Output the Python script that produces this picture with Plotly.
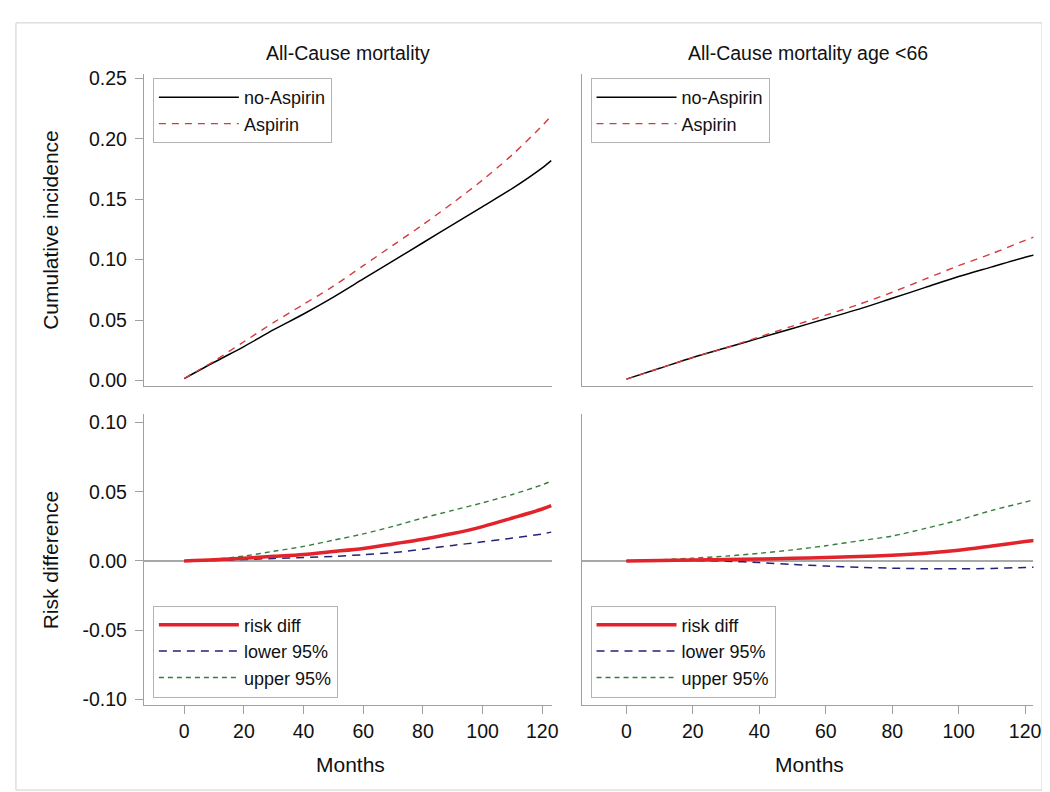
import plotly.graph_objects as go

# ---------------- data ----------------
months = [0, 10, 20, 30, 40, 50, 60, 70, 80, 90, 100, 110, 120, 123]

# Top-left: All-Cause mortality, cumulative incidence
all_no_aspirin = [0.0015, 0.015, 0.028, 0.042, 0.055, 0.069, 0.084, 0.099, 0.114, 0.129, 0.144, 0.159, 0.176, 0.182]
all_aspirin    = [0.0015, 0.016, 0.032, 0.048, 0.063, 0.078, 0.095, 0.112, 0.129, 0.147, 0.166, 0.187, 0.211, 0.219]

# Top-right: All-Cause mortality age <66, cumulative incidence
young_no_aspirin = [0.001, 0.010, 0.019, 0.027, 0.035, 0.043, 0.051, 0.059, 0.068, 0.077, 0.086, 0.094, 0.102, 0.104]
young_aspirin    = [0.001, 0.010, 0.019, 0.027, 0.036, 0.045, 0.054, 0.063, 0.073, 0.084, 0.095, 0.105, 0.116, 0.119]

# Bottom-left: risk difference, all ages
all_rd    = [0.0, 0.0008, 0.002, 0.0033, 0.0047, 0.0068, 0.009, 0.0123, 0.0157, 0.0198, 0.0248, 0.031, 0.0375, 0.040]
all_lower = [0.0, 0.0004, 0.001, 0.0018, 0.0025, 0.0033, 0.0045, 0.006, 0.0085, 0.0112, 0.0138, 0.0165, 0.0195, 0.0208]
all_upper = [0.0, 0.0012, 0.0035, 0.007, 0.0105, 0.015, 0.0195, 0.025, 0.031, 0.0365, 0.042, 0.048, 0.055, 0.0576]

# Bottom-right: risk difference, age <66
young_rd    = [0.0, 0.0003, 0.0007, 0.001, 0.0014, 0.0019, 0.0025, 0.0032, 0.0041, 0.0055, 0.0077, 0.0108, 0.0140, 0.0149]
young_lower = [0.0, 0.0002, 0.0003, -0.0002, -0.0012, -0.0025, -0.0037, -0.0046, -0.0052, -0.0056, -0.0057, -0.0054, -0.0047, -0.0045]
young_upper = [0.0, 0.0008, 0.002, 0.0035, 0.0055, 0.008, 0.011, 0.0145, 0.018, 0.0235, 0.0295, 0.0365, 0.0425, 0.0445]

panel_titles = ["All-Cause mortality", "All-Cause mortality age <66"]
x_title = "Months"
y_titles = ["Cumulative incidence", "Risk difference"]

x_ticks = [0, 20, 40, 60, 80, 100, 120]
x_tick_labels = ["0", "20", "40", "60", "80", "100", "120"]
y_top_ticks = [0.00, 0.05, 0.10, 0.15, 0.20, 0.25]
y_top_labels = ["0.00", "0.05", "0.10", "0.15", "0.20", "0.25"]
y_bot_ticks = [-0.10, -0.05, 0.00, 0.05, 0.10]
y_bot_labels = ["-0.10", "-0.05", "0.00", "0.05", "0.10"]

# ---------------- styling ----------------
W, H = 1050, 792
FONT = "Liberation Sans, Arial, Helvetica, sans-serif"
AXIS_GRAY = "#a0a0a0"
TXT = "#111111"

def px_x(p):
    return p / W

def px_y(p):
    return 1 - p / H

left_dom = [px_x(137), px_x(548.3)]
right_dom = [px_x(578.3), px_x(1033.3)]
top_dom = [px_y(377), px_y(60)]
bot_dom = [px_y(701), px_y(405)]

left_range = [-13.5, 123.3]
right_range = [-13.4, 122.5]
top_range = [-0.0049, 0.2537]
bot_range = [-0.1043, 0.1062]

style_noasp = dict(color="#000000", width=1.5)
style_asp = dict(color="#d63a3c", width=1.4, dash="7px,6px")
style_rd = dict(color="#e3232b", width=3.5)
style_lo = dict(color="#22227a", width=1.5, dash="8px,6px")
style_up = dict(color="#357f3c", width=1.4, dash="5px,4px")

fig = go.Figure()

def add(x, y, name, line, xa, ya, legend):
    fig.add_trace(go.Scatter(
        x=x, y=y, name=name, mode="lines",
        line=dict(shape="spline", smoothing=0.8, **line),
        xaxis=xa, yaxis=ya, legend=legend, showlegend=True,
    ))

add(months, all_no_aspirin, "no-Aspirin", style_noasp, "x", "y", "legend")
add(months, all_aspirin, "Aspirin", style_asp, "x", "y", "legend")
add(months, young_no_aspirin, "no-Aspirin", style_noasp, "x2", "y2", "legend2")
add(months, young_aspirin, "Aspirin", style_asp, "x2", "y2", "legend2")

add(months, all_upper, "upper 95%", style_up, "x3", "y3", "legend3")
add(months, all_lower, "lower 95%", style_lo, "x3", "y3", "legend3")
add(months, all_rd, "risk diff", style_rd, "x3", "y3", "legend3")
add(months, young_upper, "upper 95%", style_up, "x4", "y4", "legend4")
add(months, young_lower, "lower 95%", style_lo, "x4", "y4", "legend4")
add(months, young_rd, "risk diff", style_rd, "x4", "y4", "legend4")

base_axis = dict(
    showgrid=False, zeroline=False, showline=True, linecolor=AXIS_GRAY, linewidth=1.2,
    ticks="outside", tickcolor=AXIS_GRAY, ticklen=8, tickwidth=1.2,
    tickfont=dict(family=FONT, size=19.5, color=TXT), mirror=False,
)

def xax(domain, rng, anchor, labels):
    d = dict(base_axis, domain=domain, range=rng, anchor=anchor,
             tickmode="array", tickvals=x_ticks, ticktext=x_tick_labels)
    if not labels:
        d.update(showticklabels=False, ticks="")
    else:
        d.update(ticklabelstandoff=0)
    return d

def yax(domain, rng, anchor, ticks, labels, show, zero=False):
    d = dict(base_axis, domain=domain, range=rng, anchor=anchor,
             tickmode="array", tickvals=ticks, ticktext=labels)
    if not show:
        d.update(showticklabels=False, ticks="")
    else:
        d.update(ticklabelstandoff=4)
    if zero:
        d.update(zeroline=True, zerolinecolor="#a8a8a8", zerolinewidth=1.6)
    return d

leg_common = dict(
    bgcolor="white", bordercolor="#b4b4b4", borderwidth=1,
    font=dict(family=FONT, size=18, color=TXT),
    xanchor="left", itemwidth=80, tracegroupgap=0,
    traceorder="reversed",
)

fig.update_layout(
    width=W, height=H,
    paper_bgcolor="white", plot_bgcolor="white",
    margin=dict(l=0, r=0, t=0, b=0),
    font=dict(family=FONT, color=TXT),
    xaxis=xax(left_dom, left_range, "y", False),
    yaxis=yax(top_dom, top_range, "x", y_top_ticks, y_top_labels, True),
    xaxis2=xax(right_dom, right_range, "y2", False),
    yaxis2=yax(top_dom, top_range, "x2", y_top_ticks, y_top_labels, False),
    xaxis3=xax(left_dom, left_range, "y3", True),
    yaxis3=yax(bot_dom, bot_range, "x3", y_bot_ticks, y_bot_labels, True, zero=True),
    xaxis4=xax(right_dom, right_range, "y4", True),
    yaxis4=yax(bot_dom, bot_range, "x4", y_bot_ticks, y_bot_labels, False, zero=True),
    legend=dict(leg_common, x=px_x(146), y=px_y(64), yanchor="top", traceorder="normal"),
    legend2=dict(leg_common, x=px_x(587), y=px_y(64), yanchor="top", traceorder="normal"),
    legend3=dict(leg_common, x=px_x(146), y=px_y(693), yanchor="bottom"),
    legend4=dict(leg_common, x=px_x(587), y=px_y(693), yanchor="bottom"),
    showlegend=True,
)

# outer frame of the combined graph
fig.add_shape(type="rect", xref="paper", yref="paper",
              x0=px_x(8), x1=px_x(1042), y0=px_y(787), y1=px_y(8),
              line=dict(color="#cfcfcf", width=1), fillcolor="rgba(0,0,0,0)", layer="below")

ann = []
for t, dom in zip(panel_titles, [left_dom, right_dom]):
    ann.append(dict(text=t, x=(dom[0] + dom[1]) / 2, y=px_y(39), xref="paper", yref="paper",
                    showarrow=False, xanchor="center", yanchor="middle",
                    font=dict(family=FONT, size=19.5, color=TXT)))
for dom in [left_dom, right_dom]:
    ann.append(dict(text=x_title, x=(dom[0] + dom[1]) / 2 + 0.002, y=px_y(761), xref="paper", yref="paper",
                    showarrow=False, xanchor="center", yanchor="middle",
                    font=dict(family=FONT, size=21, color=TXT)))
for t, dom in zip(y_titles, [top_dom, bot_dom]):
    ann.append(dict(text=t, x=px_x(43), y=(dom[0] + dom[1]) / 2, xref="paper", yref="paper",
                    showarrow=False, xanchor="center", yanchor="middle", textangle=-90,
                    font=dict(family=FONT, size=21, color=TXT)))
fig.update_layout(annotations=ann)

fig.write_html("out.html")
